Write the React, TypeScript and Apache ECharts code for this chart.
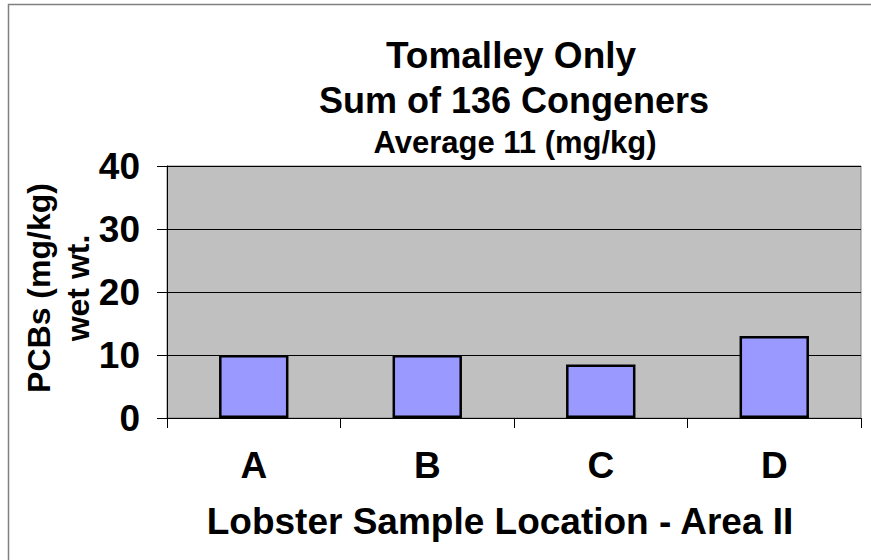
import React, { useEffect, useRef } from "react";
import * as echarts from "echarts";

const categories = ["A", "B", "C", "D"];
const values = [10, 10, 8.5, 13];
const yMin = 0;
const yMax = 40;
const yInterval = 10;
const titleLines = ["Tomalley Only", "Sum of 136 Congeners"];
const subtitle = "Average 11 (mg/kg)";
const xAxisTitle = "Lobster Sample Location - Area II";
const yAxisTitle = "PCBs (mg/kg)\nwet wt.";

const FONT = 'Arial, "Liberation Sans", Helvetica, sans-serif';

export default function App() {
  const ref = useRef<HTMLDivElement>(null);
  useEffect(() => {
    if (!ref.current) return;
    const chart = echarts.init(ref.current, undefined, { renderer: "svg" });
    const bold = (size: number) => ({ fontFamily: FONT, fontWeight: "bold", fontSize: size, fill: "#000" });
    chart.setOption({
      animation: false,
      backgroundColor: "#FFFFFF",
      graphic: [
        {
          type: "rect",
          silent: true,
          shape: { x: 8.5, y: 4.5, width: 900, height: 600 },
          style: { fill: "none", stroke: "#808080", lineWidth: 1.5 },
        },
        {
          type: "text",
          x: 511,
          y: 55,
          style: { ...bold(37), text: titleLines[0], align: "center", verticalAlign: "middle" },
        },
        {
          type: "text",
          x: 514,
          y: 100,
          style: { ...bold(36), text: titleLines[1], align: "center", verticalAlign: "middle" },
        },
        {
          type: "text",
          x: 515,
          y: 142,
          style: { ...bold(31), text: subtitle, align: "center", verticalAlign: "middle" },
        },
        {
          type: "text",
          x: 58,
          y: 288,
          rotation: Math.PI / 2,
          style: {
            ...bold(32),
            text: yAxisTitle,
            lineHeight: 39,
            align: "center",
            verticalAlign: "middle",
          },
        },
        {
          type: "text",
          x: 500,
          y: 521,
          style: { ...bold(37), text: xAxisTitle, align: "center", verticalAlign: "middle" },
        },
      ],
      grid: {
        left: 167,
        right: 10,
        top: 166,
        bottom: 142,
        show: true,
        backgroundColor: "#C0C0C0",
        borderColor: "#808080",
        borderWidth: 1,
      },
      xAxis: {
        type: "category",
        data: categories,
        boundaryGap: true,
        axisLine: { show: true, lineStyle: { color: "#000", width: 1 } },
        axisTick: { show: true, length: 10, inside: false, lineStyle: { color: "#000" } },
        axisLabel: { fontFamily: FONT, fontWeight: "bold", fontSize: 37, color: "#000", margin: 29 },
      },
      yAxis: {
        type: "value",
        min: yMin,
        max: yMax,
        interval: yInterval,
        axisLine: { show: true, lineStyle: { color: "#000", width: 1 } },
        axisTick: { show: true, length: 10, inside: false, lineStyle: { color: "#000" } },
        axisLabel: { fontFamily: FONT, fontWeight: "bold", fontSize: 37, color: "#000", margin: 27 },
        splitLine: { show: true, lineStyle: { color: "#000", width: 1 } },
      },
      series: [
        {
          type: "bar",
          data: values,
          barWidth: "40%",
          itemStyle: { color: "#9999FF", borderColor: "#000", borderWidth: 2.5 },
        },
      ],
    });
    return () => chart.dispose();
  }, []);
  return <div ref={ref} style={{ position: "fixed", left: 0, top: 0, width: 871, height: 560 }} />;
}
